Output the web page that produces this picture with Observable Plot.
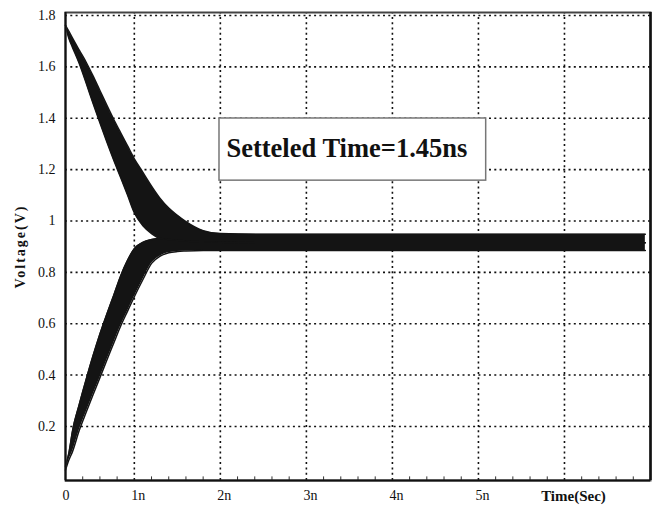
<!DOCTYPE html>
<html>
<head>
<meta charset="utf-8">
<script src="https://cdn.jsdelivr.net/npm/d3@7"></script>
<script src="https://cdn.jsdelivr.net/npm/@observablehq/plot@0.6"></script>
<style>
  html, body { margin: 0; padding: 0; background: #fff; }
  #chart svg { display: block; }
</style>
</head>
<body>
<div id="chart"></div>
<script>
// time in ns (sample grid)
const time = [0, 0.05, 0.1, 0.2, 0.3, 0.4, 0.5, 0.6, 0.7, 0.8, 0.9, 1.0, 1.1, 1.2, 1.3, 1.4, 1.5, 1.6, 1.8, 2.0, 2.5, 3, 4, 5, 6, 6.94];
// discharging family (starts near 1.76 V): fastest and slowest curves
const upperFast = [1.762, 1.71, 1.677, 1.613, 1.537, 1.458, 1.382, 1.308, 1.237, 1.170, 1.102, 1.032, 0.981, 0.951, 0.931, 0.925, 0.92, 0.917, 0.916, 0.915, 0.915, 0.915, 0.915, 0.915, 0.915, 0.915];
const upperSlow = [1.762, 1.738, 1.713, 1.665, 1.618, 1.565, 1.508, 1.451, 1.396, 1.344, 1.293, 1.242, 1.189, 1.136, 1.088, 1.050, 1.022, 0.997, 0.962, 0.951, 0.948, 0.948, 0.948, 0.948, 0.948, 0.948];
// charging family (starts near 0 V): fastest and slowest curves
const lowerFast = [0.045, 0.098, 0.18, 0.286, 0.383, 0.475, 0.56, 0.637, 0.71, 0.785, 0.846, 0.892, 0.917, 0.928, 0.932, 0.928, 0.925, 0.922, 0.919, 0.917, 0.915, 0.915, 0.915, 0.915, 0.915, 0.915];
const lowerSlow = [0.03, 0.07, 0.101, 0.185, 0.255, 0.323, 0.39, 0.458, 0.524, 0.59, 0.648, 0.705, 0.772, 0.835, 0.863, 0.876, 0.881, 0.883, 0.885, 0.885, 0.885, 0.885, 0.885, 0.885, 0.885, 0.885];

const yTicks = [0.2, 0.4, 0.6, 0.8, 1.0, 1.2, 1.4, 1.6, 1.8];
const yTickLabels = ["0.2", "0.4", "0.6", "0.8", "1", "1.2", "1.4", "1.6", "1.8"];
const xTicks = [0, 1, 2, 3, 4, 5];
const xTickLabels = ["0", "1n", "2n", "3n", "4n", "5n"];
const xGrid = [1, 2, 3, 4, 5, 6];
const xMinor = [0.25, 0.5, 0.75, 1.2, 1.4, 1.6, 1.8, 2.2, 2.4, 2.6, 2.8, 3.2, 3.4, 3.6, 3.8, 4.2, 4.4, 4.6, 4.8, 5.2, 5.4, 5.6, 5.8, 6.2, 6.4, 6.6, 6.8];
const xTitle = "Time(Sec)";
const yTitle = "Voltage(V)";
const note = "Setteled Time=1.45ns";

const rows = time.map((t, i) => ({t, uf: upperFast[i], us: upperSlow[i], lf: lowerFast[i], ls: lowerSlow[i]}));
const yMin = -0.0105, yMax = 1.8117;
const xMax = 7;
const serif = "'Liberation Serif', 'Times New Roman', serif";
const dotted = {stroke: "#111", strokeWidth: 1.6, strokeDasharray: "2,3.3"};
const ink = "#141414";
// the first nanosecond of the original axis is drawn compressed (0 sits where 0.2n would be)
const warp = t => (t <= 1 ? 0.2 + 0.8 * t : t);

const chart = Plot.plot({
  width: 660,
  height: 505,
  marginTop: 12,
  marginBottom: 25,
  marginLeft: 65,
  marginRight: 10,
  style: {fontFamily: serif, background: "#fff", color: "#111"},
  x: {type: "linear", transform: warp, domain: [0.2, 7.0], axis: null},
  y: {domain: [yMin, yMax], axis: null},
  marks: [
    Plot.ruleY(yTicks, {y: d => d, x1: 0, x2: xMax, ...dotted}),
    Plot.ruleX(xGrid, {x: d => d, y1: yMin, y2: yMax, ...dotted}),
    Plot.areaY(rows, {x: "t", y1: "us", y2: "uf", fill: ink, curve: "monotone-x"}),
    Plot.line(rows, {x: "t", y: "us", stroke: ink, strokeWidth: 1.5, curve: "monotone-x"}),
    Plot.line(rows, {x: "t", y: "uf", stroke: ink, strokeWidth: 1.5, curve: "monotone-x"}),
    Plot.areaY(rows, {x: "t", y1: "ls", y2: "lf", fill: ink, curve: "monotone-x"}),
    Plot.line(rows, {x: "t", y: "ls", stroke: ink, strokeWidth: 1.5, curve: "monotone-x"}),
    Plot.line(rows, {x: "t", y: "lf", stroke: ink, strokeWidth: 1.5, curve: "monotone-x"}),
    Plot.rect([note], {x1: 1.99, x2: 5.09, y1: 1.157, y2: 1.399, fill: "#fff", stroke: "#777", strokeWidth: 1.5}),
    Plot.text([note], {x: 2.071, y: 1.281, text: d => d, textAnchor: "start", fontSize: 26.5, fontWeight: "bold", fill: "#111"}),
    Plot.ruleX(xMinor, {x: d => d, y1: yMin, y2: yMin + 0.014, stroke: "#333", strokeWidth: 1}),
    Plot.frame({stroke: "#444", strokeWidth: 2}),
    Plot.ruleX([0], {x: d => d, y1: yMin, y2: yMax, stroke: "#111", strokeWidth: 2}),
    Plot.ruleX([xMax], {x: d => d, y1: yMin, y2: yMax, stroke: "#111", strokeWidth: 2.5}),
    Plot.ruleY([yMin], {y: d => d, x1: 0, x2: xMax, stroke: "#111", strokeWidth: 2}),
    Plot.text(yTicks, {x: 0, y: d => d, text: (d, i) => yTickLabels[i], textAnchor: "end", dx: -10, fontSize: 14, fill: "#111"}),
    Plot.text(xTicks, {x: d => d, y: yMin, text: (d, i) => xTickLabels[i], textAnchor: "start", dx: -3, dy: 15, fontSize: 14, fill: "#111"}),
    Plot.text([xTitle], {x: 6, y: yMin, text: d => d, textAnchor: "middle", dx: 9, dy: 16, fontSize: 15, fontWeight: "bold", fill: "#111"}),
    Plot.text([yTitle], {frameAnchor: "left", text: d => d, textAnchor: "middle", rotate: -90, dx: -45, fontSize: 14, fontWeight: "bold", fill: "#111"})
  ]
});
d3.select(chart).selectAll("text").filter(function () { return this.textContent === yTitle; })
  .style("letter-spacing", "2px");
document.getElementById("chart").appendChild(chart);
</script>
</body>
</html>
